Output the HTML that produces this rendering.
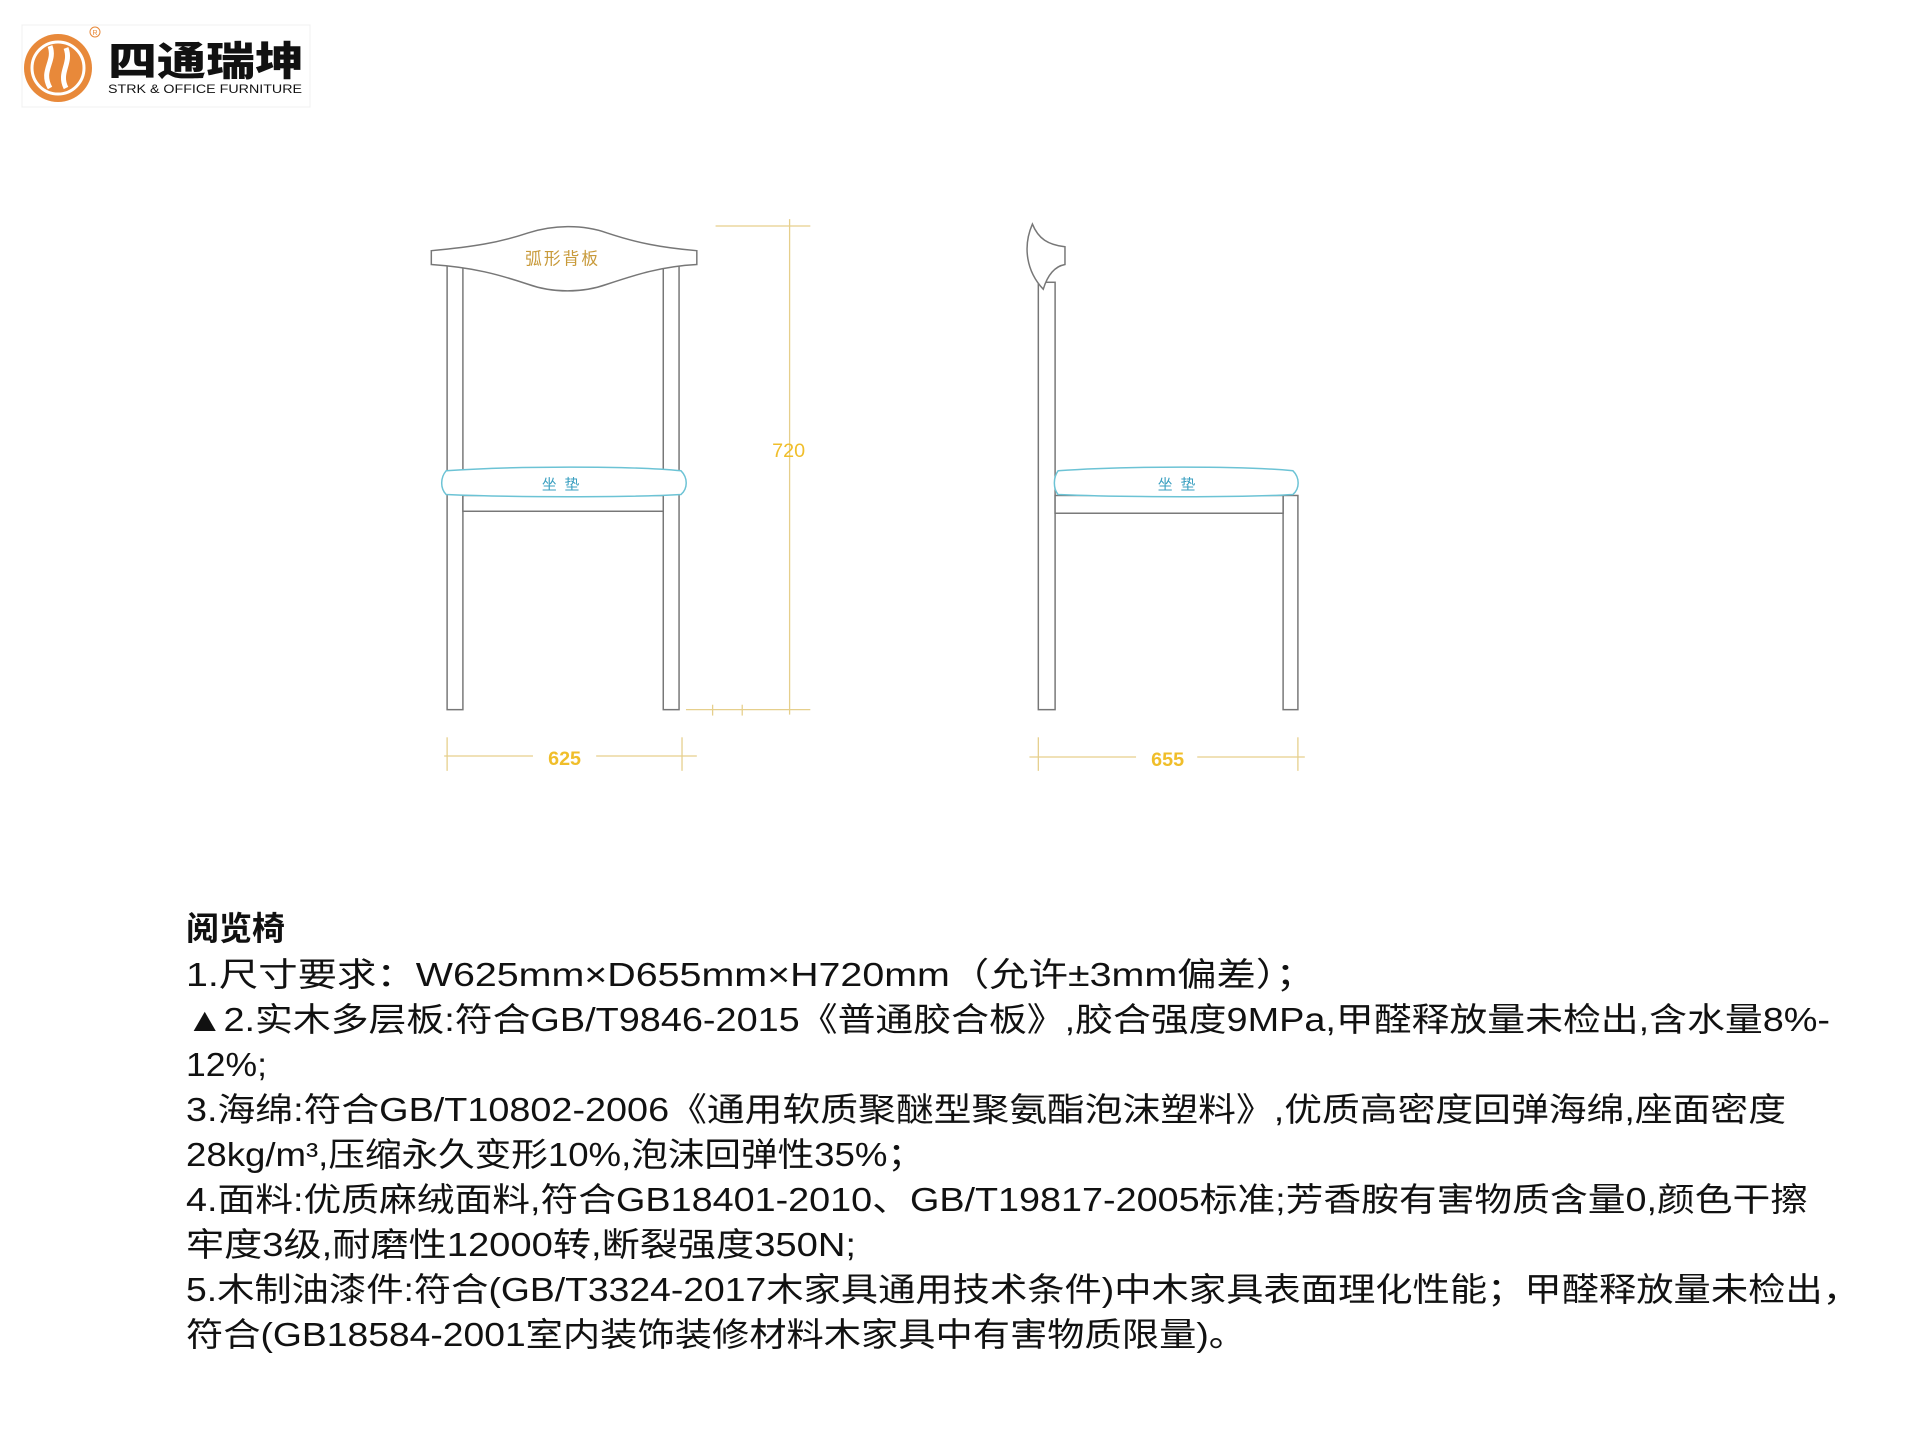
<!DOCTYPE html>
<html><head><meta charset="utf-8"><style>
html,body{margin:0;padding:0;background:#fff;}
svg{display:block}
.t{font-family:"Liberation Sans","Noto Sans CJK SC",sans-serif;font-size:33px;fill:#111;}
</style></head><body>
<svg width="1920" height="1440" viewBox="0 0 1920 1440" xmlns="http://www.w3.org/2000/svg">
<rect width="1920" height="1440" fill="#fff"/>
<!-- logo -->
<rect x="22" y="25" width="288" height="82" fill="#fff" stroke="#f0f0f0"/>
<circle cx="58" cy="68" r="34" fill="#e8893a"/>
<circle cx="58" cy="68" r="26" fill="none" stroke="#fff" stroke-width="3"/>
<path d="M50 88 C40 70 56 62 50 46" stroke="#fff" stroke-width="5" fill="none"/>
<path d="M66 88 C58 72 72 64 66 48" stroke="#fff" stroke-width="5" fill="none"/>
<circle cx="95" cy="32" r="5" fill="none" stroke="#e8893a" stroke-width="1"/>
<text x="95" y="35" font-size="7" fill="#e8893a" text-anchor="middle" font-family="Liberation Sans,sans-serif">R</text>
<text x="108" y="75" font-family="'Liberation Sans','Noto Sans CJK SC',sans-serif" font-size="40" font-weight="900" fill="#111" textLength="196" lengthAdjust="spacingAndGlyphs">四通瑞坤</text>
<text x="108" y="93" font-family="'Liberation Sans',sans-serif" font-size="12" fill="#111" textLength="194" lengthAdjust="spacingAndGlyphs">STRK &amp; OFFICE FURNITURE</text>

<g transform="scale(0.987)">
<g stroke="#777" stroke-width="1.5" fill="#fff">
<!-- front chair -->
<rect x="453" y="268" width="16" height="451"/>
<rect x="672" y="268" width="16" height="451"/>
<rect x="469" y="502" width="203" height="16"/>
<path d="M437 254 C480 250 505 246 535 236 C560 228 590 227 615 236 C645 246 670 251 706 254 L706 268 C670 270 645 278 615 288 C590 297 560 297 535 288 C505 278 480 271 437 268 Z"/>
<!-- side chair -->
<rect x="1052" y="286" width="17" height="433"/>
<rect x="1300" y="502" width="15" height="217"/>
<rect x="1069" y="502" width="231" height="18"/>
<path d="M1057 293 C1040 275 1036 250 1046 227 C1052 242 1062 248 1079 250 L1079 268 C1068 270 1061 280 1057 293 Z"/>
</g>
<g stroke="#6cc3d5" stroke-width="1.5" fill="#fff">
<path d="M452 477 C520 472 640 472 690 477 C697 484 697 495 690 501 C640 504 520 504 452 501 C446 495 446 484 452 477 Z"/>
<path d="M1072 477 C1140 472 1260 472 1310 477 C1317 484 1317 495 1310 501 C1260 504 1140 504 1072 501 C1067 495 1067 484 1072 477 Z"/>
</g>
<text x="570" y="268" font-family="'Noto Sans CJK SC',sans-serif" font-size="17" fill="#c89a3a" text-anchor="middle" letter-spacing="2">弧形背板</text>
<text x="572" y="496" font-family="'Noto Sans CJK SC',sans-serif" font-size="15" fill="#3a9fc0" text-anchor="middle" letter-spacing="8">坐垫</text>
<text x="1196" y="496" font-family="'Noto Sans CJK SC',sans-serif" font-size="15" fill="#3a9fc0" text-anchor="middle" letter-spacing="8">坐垫</text>
<!-- dims -->
<g stroke="#e6cf8c" stroke-width="1.3" fill="none">
<line x1="800" y1="222" x2="800" y2="724"/>
<line x1="725" y1="229" x2="821" y2="229"/>
<line x1="695" y1="719" x2="821" y2="719"/>
<line x1="722" y1="714" x2="722" y2="725"/><line x1="752" y1="714" x2="752" y2="725"/>
<line x1="450" y1="766" x2="540" y2="766"/><line x1="604" y1="766" x2="706" y2="766"/>
<line x1="453" y1="747" x2="453" y2="781"/><line x1="691" y1="747" x2="691" y2="781"/>
<line x1="1043" y1="767" x2="1151" y2="767"/><line x1="1213" y1="767" x2="1322" y2="767"/>
<line x1="1052" y1="747" x2="1052" y2="781"/><line x1="1315" y1="747" x2="1315" y2="781"/>
</g>
<g font-family="'Liberation Sans',sans-serif" font-size="20" fill="#f0be2a" text-anchor="middle">
<text x="799" y="463">720</text>
<text x="572" y="775" font-weight="bold">625</text>
<text x="1183" y="776" font-weight="bold">655</text>
</g>
</g>
<!-- text -->
<text class="t" x="186" y="951" font-weight="bold" font-size="34" transform="translate(0,-11)">阅览椅</text>
<g transform="translate(0,-10)">
<text class="t" x="186" y="996" textLength="1129" lengthAdjust="spacingAndGlyphs">1.尺寸要求：W625mm×D655mm×H720mm（允许±3mm偏差）；</text>
<text class="t" x="186" y="1041" textLength="1644" lengthAdjust="spacingAndGlyphs">▲2.实木多层板:符合GB/T9846-2015《普通胶合板》,胶合强度9MPa,甲醛释放量未检出,含水量8%-</text>
<text class="t" x="186" y="1086" textLength="81" lengthAdjust="spacingAndGlyphs">12%;</text>
<text class="t" x="186" y="1131" textLength="1600" lengthAdjust="spacingAndGlyphs">3.海绵:符合GB/T10802-2006《通用软质聚醚型聚氨酯泡沫塑料》,优质高密度回弹海绵,座面密度</text>
<text class="t" x="186" y="1176" textLength="738" lengthAdjust="spacingAndGlyphs">28kg/m³,压缩永久变形10%,泡沫回弹性35%；</text>
<text class="t" x="186" y="1221" textLength="1622" lengthAdjust="spacingAndGlyphs">4.面料:优质麻绒面料,符合GB18401-2010、GB/T19817-2005标准;芳香胺有害物质含量0,颜色干擦</text>
<text class="t" x="186" y="1266" textLength="670" lengthAdjust="spacingAndGlyphs">牢度3级,耐磨性12000转,断裂强度350N;</text>
<text class="t" x="186" y="1311" textLength="1674" lengthAdjust="spacingAndGlyphs">5.木制油漆件:符合(GB/T3324-2017木家具通用技术条件)中木家具表面理化性能；甲醛释放量未检出，</text>
<text class="t" x="186" y="1356" textLength="1060" lengthAdjust="spacingAndGlyphs">符合(GB18584-2001室内装饰装修材料木家具中有害物质限量)。</text>
</g>
</svg>
</body></html>
